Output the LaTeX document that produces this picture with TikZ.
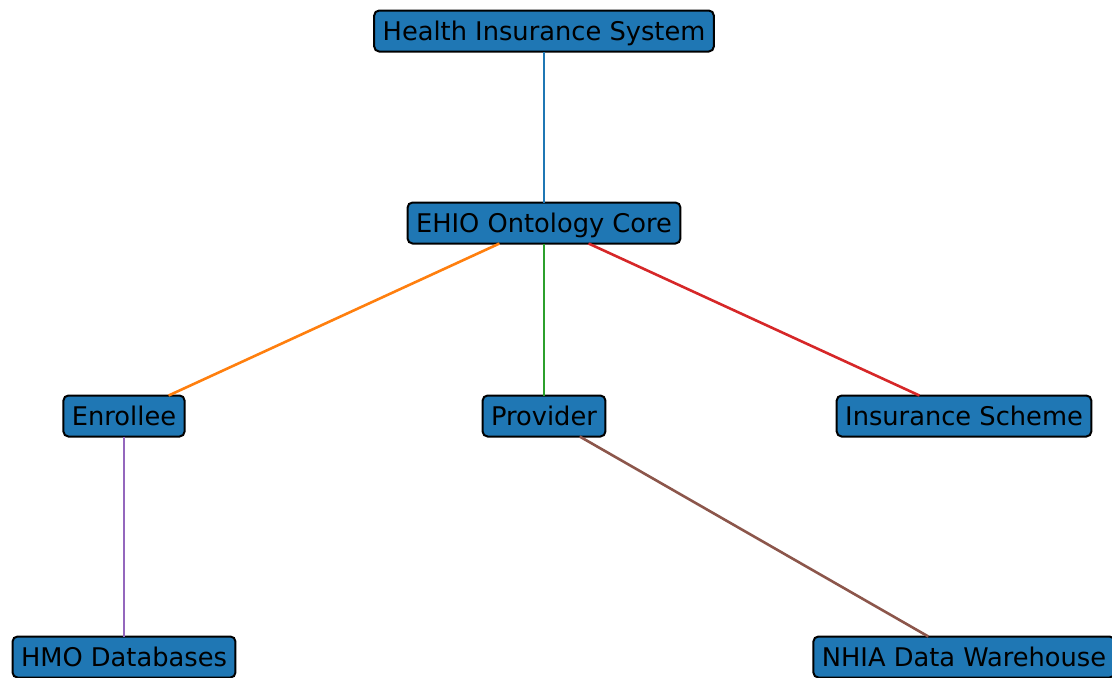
\documentclass[tikz,border=0pt]{standalone}
\usepackage{fontspec}
\setmainfont{DejaVu Sans}
\usepackage{xcolor}
\usepackage{tikz}

\definecolor{tabblue}{HTML}{1F77B4}
\definecolor{taborange}{HTML}{FF7F0E}
\definecolor{tabgreen}{HTML}{2CA02C}
\definecolor{tabred}{HTML}{D62728}
\definecolor{tabpurple}{HTML}{9467BD}
\definecolor{tabbrown}{HTML}{8C564B}

\begin{document}
\begin{tikzpicture}[x=0.5pt, y=-0.5pt,
    box/.style={draw=black, line width=1pt, fill=tabblue, rounded corners=2.5pt,
        font=\fontsize{12.85}{15}\selectfont, inner xsep=4.25pt, inner ysep=0pt,
        text height=10.8pt, text depth=1.8pt, minimum height=20.5pt, outer sep=0pt},
    link/.style={line width=1.3pt}]
    \useasboundingbox (0,0) rectangle (1112,677);
    \clip (0,0) rectangle (1112,677);
    % Ontology tree
    \node[box] (system) at (544,31) {Health Insurance System};
    \node[box] (core) at (544,223) {EHIO Ontology Core};
    \node[box] (enrollee) at (124,416) {Enrollee};
    \node[box] (provider) at (544,416) {Provider};
    \node[box] (scheme) at (964,416) {Insurance Scheme};
    \node[box] (hmo) at (124,657) {HMO Databases};
    \node[box] (nhia) at (964,657) {NHIA Data Warehouse};
    % Links
    \draw[link, tabblue] (system) -- (core);
    \draw[link, taborange] (core) -- (enrollee);
    \draw[link, tabgreen] (core) -- (provider);
    \draw[link, tabred] (core) -- (scheme);
    \draw[link, tabpurple] (enrollee) -- (hmo);
    \draw[link, tabbrown] (provider) -- (nhia);
\end{tikzpicture}
\end{document}
